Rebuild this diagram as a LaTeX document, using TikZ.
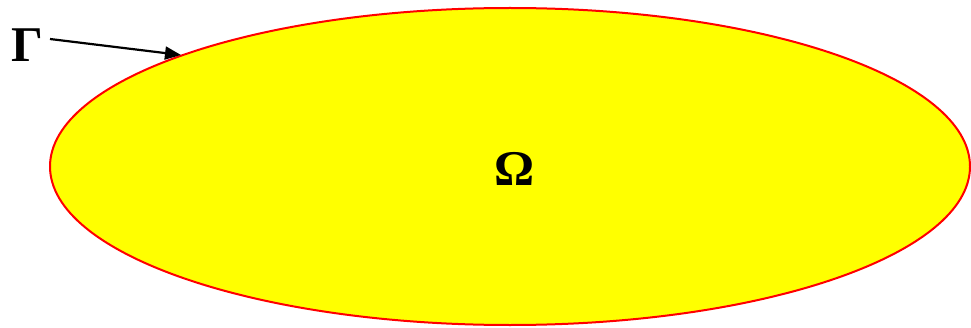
\documentclass[tikz,border=0pt]{standalone}
\usepackage{fontspec}
\setmainfont{Liberation Serif}
\usetikzlibrary{positioning,arrows.meta}
\definecolor{DomYellow}{RGB}{255,255,0}
\definecolor{EdgeRed}{RGB}{255,0,0}
\tikzset{
  region/.style={draw=EdgeRed,fill=DomYellow,line width=2pt},
  lab/.style={inner sep=0pt,font=\fontsize{50}{60}\selectfont\bfseries},
  pointer/.style={draw=black,line width=2.2pt,-{Triangle[length=16pt,width=13pt]}},
}
\begin{document}
\begin{tikzpicture}[x=1pt,y=1pt]
        \useasboundingbox (0,0) rectangle (971,327);
        \fill[white] (0,0) rectangle (971,327);
        \draw[region] (510,160.5) ellipse [x radius=460,y radius=158.5];
        \node[lab] (omega) at (515,158.5) {Ω};
        \node[lab] (gamma) at (27,281.5) {Γ};
        \coordinate (gstart) at (50,288);
        \coordinate (gtip) at (181,272);
        \draw[pointer] (gstart)--(gtip);
      \end{tikzpicture}
\end{document}
